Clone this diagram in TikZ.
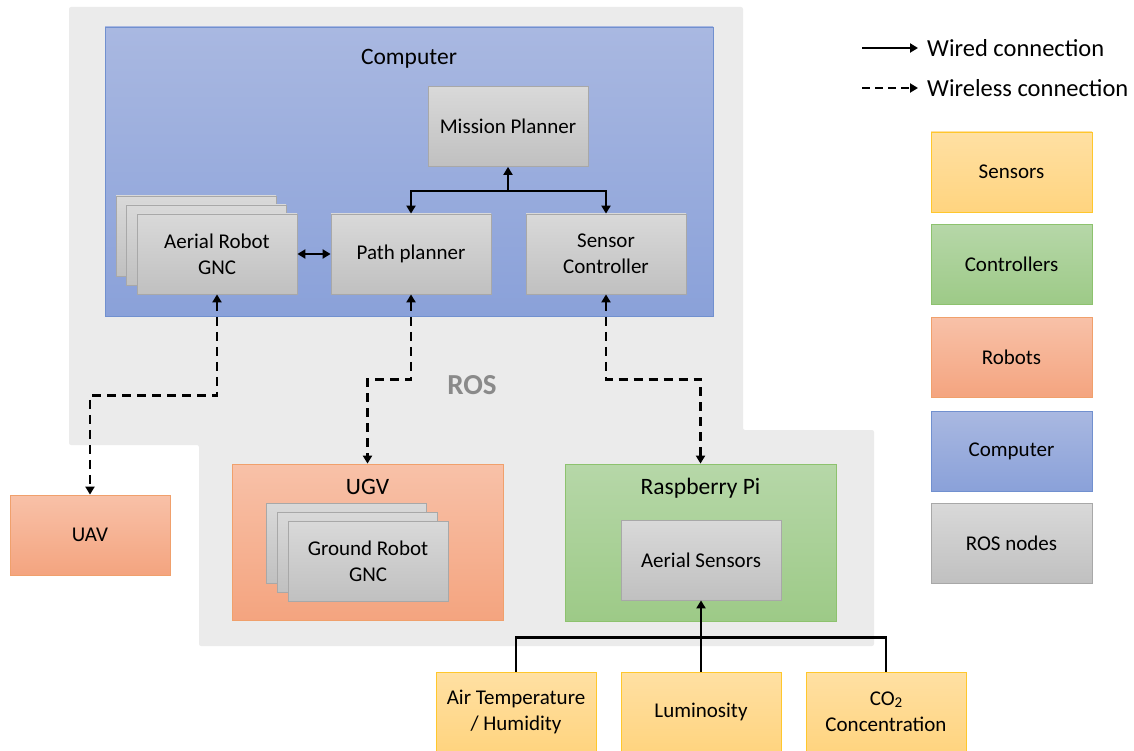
\documentclass[tikz,border=0pt]{standalone}
\usepackage{fontspec}
\setmainfont{Carlito}
\usetikzlibrary{arrows.meta,calc}

\definecolor{bgGray}{HTML}{EBEBEB}
\definecolor{rosTop}{HTML}{D9D9D9}
\definecolor{rosBot}{HTML}{C0C0C0}
\definecolor{rosLine}{HTML}{A8A8A8}
\definecolor{compTop}{HTML}{A9B8E1}
\definecolor{compBot}{HTML}{8AA1D9}
\definecolor{compLine}{HTML}{7190CF}
\definecolor{robTop}{HTML}{F8C1A8}
\definecolor{robBot}{HTML}{F4A47F}
\definecolor{robLine}{HTML}{F0A06C}
\definecolor{ctrlTop}{HTML}{B6D7A8}
\definecolor{ctrlBot}{HTML}{9DCA87}
\definecolor{ctrlLine}{HTML}{8DC26E}
\definecolor{sensTop}{HTML}{FFE0A3}
\definecolor{sensBot}{HTML}{FFD47F}
\definecolor{sensLine}{HTML}{FFC72C}
\definecolor{rosLabel}{HTML}{8A8A8A}

\begin{document}
\begin{tikzpicture}[x=1pt,y=-1pt,
  box/.style={draw, line width=0.8pt, minimum width=160pt, minimum height=80pt,
    inner sep=0pt, align=center, font=\fontsize{21}{26}\selectfont, text=black},
  rosnode/.style={box, top color=rosTop, bottom color=rosBot, draw=rosLine},
  compnode/.style={box, top color=compTop, bottom color=compBot, draw=compLine},
  robnode/.style={box, top color=robTop, bottom color=robBot, draw=robLine},
  ctrlnode/.style={box, top color=ctrlTop, bottom color=ctrlBot, draw=ctrlLine},
  sensnode/.style={box, top color=sensTop, bottom color=sensBot, draw=sensLine},
  title/.style={font=\fontsize{23.5}{28}\selectfont, inner sep=0pt},
  legtext/.style={font=\fontsize{24.5}{29}\selectfont, anchor=west, inner sep=0pt},
  tip/.style={-{Triangle[length=8pt,width=9pt]}},
  tips/.style={{Triangle[length=8pt,width=9pt]}-{Triangle[length=8pt,width=9pt]}},
  wired/.style={line width=2.4pt},
  wireless/.style={line width=2.4pt, dash pattern=on 9pt off 6pt},
]
\useasboundingbox (0,0) rectangle (1134,751);

% ROS domain background
\fill[bgGray, rounded corners=2pt] (69,7) -- (743,7) -- (743,430) -- (874,430)
  -- (874,646) -- (199,646) -- (199,445) -- (69,445) -- cycle;
\node[title, text=rosLabel, font=\fontsize{29}{34}\selectfont\bfseries] (roslabel) at (472,385) {ROS};

% Computer
\node[compnode, minimum width=608pt, minimum height=289pt] (computer) at (409,171.5) {};
\node[title] (computerTitle) at (409,59) {Computer};
\node[rosnode] (mission) at (508,126.5) {Mission Planner};
\node[rosnode] (aerialB2) at (196,236) {};
\node[rosnode] (aerialB1) at (206,245) {};
\node[rosnode] (aerial) at (217,254) {Aerial Robot\\GNC};
\node[rosnode] (path) at (411,254) {Path planner};
\node[rosnode] (sensorctl) at (606,254) {Sensor\\Controller};

% Robots
\node[robnode] (uav) at (90,535) {UAV};
\node[robnode, minimum width=271pt, minimum height=156pt] (ugv) at (367.5,542) {};
\node[title] (ugvTitle) at (367.5,487) {UGV};
\node[rosnode] (groundB2) at (346,543) {};
\node[rosnode] (groundB1) at (357,552) {};
\node[rosnode] (ground) at (368,561) {Ground Robot\\GNC};

% Raspberry Pi
\node[ctrlnode, minimum width=271pt, minimum height=157pt] (rpi) at (700.5,542.5) {};
\node[title] (rpiTitle) at (700.5,488) {Raspberry Pi};
\node[rosnode] (aerialsens) at (701,560) {Aerial Sensors};

% Sensors
\node[sensnode] (airtemp) at (516,712) {Air Temperature\\/ Humidity};
\node[sensnode] (lum) at (701,712) {Luminosity};
\node[sensnode] (co2) at (886,712) {CO\raisebox{-1.5pt}{\fontsize{15}{15}\selectfont 2}\\Concentration};

% Wired links
\draw[wired, tips] (aerial.east) -- (path.west);
\draw[wired, tips]
  (path.north) |- ($(mission.south)+(0,24)$) coordinate (mj) -| (sensorctl.north);
\draw[wired, tip] (mj) -- (mission.south);
\draw[wired] (airtemp.north) -- ++(0,-34) -| (co2.north);
\draw[wired, tip] (lum.north) -- (aerialsens.south);

% Wireless links
\draw[wireless, tips] (aerial.south) -- ++(0,101) -| (uav.north);
\draw[wireless, tips] (path.south) -- ++(0,85) -| (ugv.north);
\draw[wireless, tips] (sensorctl.south) -- ++(0,85) -| (rpi.north);

% Legend
\coordinate (lw1) at (862,48);
\coordinate (lw2) at (918,48);
\coordinate (ll1) at (862,88);
\coordinate (ll2) at (918,88);
\draw[wired, tip] (lw1) -- (lw2);
\draw[wireless, dash pattern=on 8pt off 5pt, tip] (ll1) -- (ll2);
\node[legtext] (legWired) at (927,48) {Wired connection};
\node[legtext] (legWireless) at (927,88) {Wireless connection};

\node[sensnode, minimum width=161pt] (legSens) at (1011.5,172) {Sensors};
\node[ctrlnode, minimum width=161pt] (legCtrl) at (1011.5,264.5) {Controllers};
\node[robnode, minimum width=161pt] (legRob) at (1011.5,357.5) {Robots};
\node[compnode, minimum width=161pt] (legComp) at (1011.5,451) {Computer};
\node[rosnode, minimum width=161pt] (legRos) at (1011.5,543) {ROS nodes};
\end{tikzpicture}
\end{document}
